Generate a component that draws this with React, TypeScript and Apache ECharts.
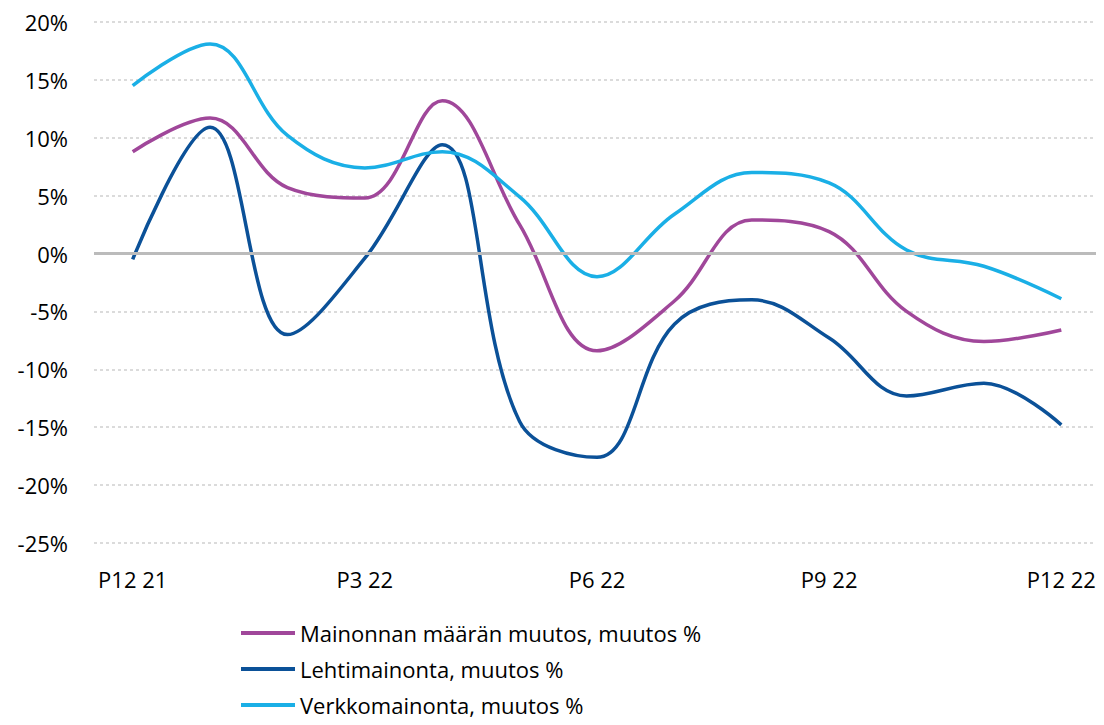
import React, { useEffect, useRef } from "react";
import * as echarts from "echarts";

const categories = ["P12 21", "P1 22", "P2 22", "P3 22", "P4 22", "P5 22", "P6 22", "P7 22", "P8 22", "P9 22", "P10 22", "P11 22", "P12 22"];
const mainonta = [8.8, 11.7, 5.7, 4.8, 13.2, 2.5, -8.4, -4.1, 2.9, 1.9, -5.0, -7.6, -6.6];
const lehti = [-0.5, 10.9, -7.0, -0.4, 9.4, -14.5, -17.6, -6.1, -4.0, -7.3, -12.3, -11.2, -14.8];
const verkko = [14.5, 18.1, 10.2, 7.4, 8.8, 4.9, -2.0, 3.4, 7.0, 6.1, 0.3, -1.1, -3.9];
const seriesNames = ["Mainonnan määrän muutos, muutos %", "Lehtimainonta, muutos %", "Verkkomainonta, muutos %"];
const colors = ["#A0479A", "#0B5198", "#1AAFE6"];

const FONT = "Open Sans";

export default function App() {
  const ref = useRef<HTMLDivElement>(null);
  useEffect(() => {
    if (!ref.current) return;
    const chart = echarts.init(ref.current, null, { renderer: "svg" });
    const mk = (name: string, data: number[], color: string) => ({
      name,
      type: "line",
      data,
      smooth: 0.38,
      showSymbol: false,
      symbol: "none",
      z: 3,
      lineStyle: { color, width: 3.5 },
      itemStyle: { color },
    });
    chart.setOption({
      animation: false,
      textStyle: { fontFamily: FONT },
      grid: { left: 94, right: 4, top: 22, bottom: 725 - 543 },
      legend: {
        orient: "vertical",
        left: 236,
        top: 617,
        height: 200,
        padding: 5,
        itemWidth: 54,
        itemHeight: 4,
        itemGap: 14,
        icon: "rect",
        textStyle: { fontFamily: FONT, fontSize: 22, color: "#000" },
        data: seriesNames,
      },
      xAxis: {
        type: "category",
        data: categories,
        boundaryGap: true,
        axisLine: { show: false },
        axisTick: { show: false },
        axisLabel: { interval: 2, fontSize: 22, color: "#000", fontFamily: FONT, margin: 25 },
        splitLine: { show: false },
      },
      yAxis: {
        type: "value",
        min: -25,
        max: 20,
        interval: 5,
        axisLine: { show: false },
        axisTick: { show: false },
        axisLabel: { formatter: "{value}%", fontSize: 22, color: "#000", fontFamily: FONT, margin: 26 },
        splitLine: { lineStyle: { color: "#D0D0D0", type: [3, 3], width: 1.5 } },
      },
      series: [
        {
          name: "zero",
          type: "line",
          data: [],
          z: 1,
          silent: true,
          markLine: {
            silent: true,
            symbol: "none",
            label: { show: false },
            lineStyle: { color: "#BBBBBB", type: "solid", width: 3 },
            data: [{ yAxis: 0 }],
          },
        },
        mk(seriesNames[0], mainonta, colors[0]),
        mk(seriesNames[1], lehti, colors[1]),
        mk(seriesNames[2], verkko, colors[2]),
      ],
    });
    return () => chart.dispose();
  }, []);
  return <div ref={ref} style={{ width: 1104, height: 725, margin: -8 }} />;
}
